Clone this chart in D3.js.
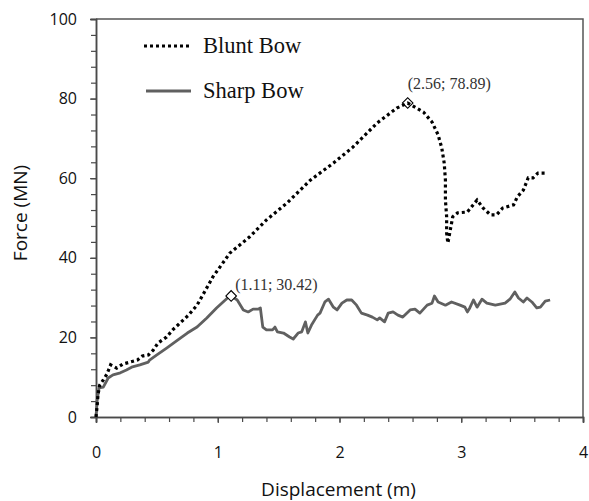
<!DOCTYPE html>
<html>
<head>
<meta charset="utf-8">
<script src="https://cdn.jsdelivr.net/npm/d3@7"></script>
<style>
  html, body { margin: 0; padding: 0; background: #fff; }
  svg { display: block; }
</style>
</head>
<body>
<svg id="chart" width="589" height="501"></svg>
<script>
// Blunt Bow: displacement (m)
const bluntX = [0, 0.01, 0.016, 0.03, 0.06, 0.09, 0.12, 0.17, 0.22, 0.28, 0.34, 0.38, 0.43, 0.47, 0.51, 0.58, 0.63, 0.69, 0.76, 0.83, 0.90, 0.96, 1.10, 1.26, 1.40, 1.57, 1.76, 1.95, 2.11, 2.31, 2.47, 2.56, 2.69, 2.76, 2.81, 2.84, 2.86, 2.87, 2.87, 2.88, 2.88, 2.89, 2.91, 2.93, 2.97, 3.05, 3.13, 3.18, 3.24, 3.29, 3.34, 3.43, 3.46, 3.51, 3.55, 3.59, 3.63, 3.69];
// Blunt Bow: force (MN)
const bluntY = [0, 3, 5.5, 8, 9.3, 10.8, 13.1, 12.3, 13.3, 13.8, 14.3, 15.3, 15.6, 16.8, 18.6, 20.1, 21.9, 23.6, 25.6, 28.1, 31.9, 35.2, 41.2, 45.2, 49.5, 53.8, 59.5, 63.8, 67.8, 73.9, 77.6, 78.89, 76.6, 74.1, 70.9, 67.6, 63.8, 59.5, 54.5, 50.3, 46.2, 43.7, 47.0, 50.3, 51.3, 51.5, 54.5, 52.5, 50.8, 50.8, 52.5, 53.3, 55.3, 57.0, 60.1, 60.1, 61.3, 61.3];

// Sharp Bow: displacement (m)
const sharpX = [0, 0.01, 0.025, 0.06, 0.10, 0.14, 0.20, 0.25, 0.30, 0.36, 0.43, 0.44, 0.50, 0.58, 0.67, 0.75, 0.83, 0.91, 0.99, 1.08, 1.11, 1.16, 1.21, 1.25, 1.29, 1.33, 1.35, 1.37, 1.40, 1.45, 1.47, 1.49, 1.54, 1.59, 1.62, 1.66, 1.69, 1.72, 1.74, 1.77, 1.82, 1.84, 1.88, 1.91, 1.95, 1.98, 2.02, 2.06, 2.10, 2.14, 2.18, 2.23, 2.27, 2.31, 2.33, 2.37, 2.40, 2.44, 2.48, 2.52, 2.58, 2.62, 2.66, 2.72, 2.76, 2.78, 2.81, 2.87, 2.92, 2.99, 3.03, 3.05, 3.07, 3.10, 3.13, 3.17, 3.21, 3.28, 3.36, 3.40, 3.44, 3.47, 3.51, 3.54, 3.58, 3.62, 3.65, 3.69, 3.73];
// Sharp Bow: force (MN)
const sharpY = [0, 4.3, 7.3, 7.5, 9.8, 10.6, 11.1, 11.8, 12.6, 13.1, 13.8, 14.3, 15.6, 17.3, 19.3, 21.1, 22.6, 24.9, 27.4, 29.9, 30.42, 29.4, 26.9, 26.4, 27.1, 27.1, 27.4, 22.6, 21.9, 21.9, 22.6, 21.4, 21.1, 20.1, 19.6, 21.1, 21.4, 23.9, 21.1, 23.1, 25.6, 26.1, 28.9, 29.6, 27.6, 26.9, 28.6, 29.4, 29.4, 28.1, 26.1, 25.6, 25.1, 24.4, 24.9, 23.9, 26.1, 26.4, 25.6, 25.1, 26.9, 27.1, 26.1, 28.1, 28.6, 30.4, 28.9, 28.1, 28.9, 28.1, 27.6, 26.4, 27.4, 29.4, 27.6, 29.6, 28.6, 28.1, 28.6, 29.6, 31.4, 29.9, 28.9, 29.9, 28.9, 27.4, 27.6, 29.1, 29.4];

const seriesNames = ["Blunt Bow", "Sharp Bow"];
const peakX = [2.56, 1.11];
const peakY = [78.89, 30.42];
const peakLabels = ["(2.56; 78.89)", "(1.11; 30.42)"];
const xTickLabels = [0, 1, 2, 3, 4];
const yTickLabels = [0, 20, 40, 60, 80, 100];
const xTitle = "Displacement (m)";
const yTitle = "Force (MN)";

const svg = d3.select("#chart");
const pL = 96, pR = 583, pT = 19, pB = 417;

const x = d3.scaleLinear().domain([0, 4]).range([pL, pR]);
const y = d3.scaleLinear().domain([0, 100]).range([pB, pT]);

const axisColor = "#4a4a4a";
const sans = "'Open Sans', sans-serif";
const serif = "'Liberation Serif', 'Times New Roman', serif";

// frame (top and right)
svg.append("path")
  .attr("d", `M${pL},${pT}H${pR}V${pB}`)
  .attr("fill", "none").attr("stroke", "#555").attr("stroke-width", 1.5);

// minor ticks
const yMinor = d3.range(0, 101, 4);
const xMinor = d3.range(0, 4.001, 0.2);

const yAxisG = svg.append("g").attr("transform", `translate(${pL},0)`)
  .call(d3.axisLeft(y).tickValues(yMinor).tickSize(5).tickFormat(""));
const yMajorG = svg.append("g").attr("transform", `translate(${pL},0)`)
  .call(d3.axisLeft(y).tickValues(yTickLabels).tickSize(6).tickPadding(13).tickFormat(d3.format("d")));
const xAxisG = svg.append("g").attr("transform", `translate(0,${pB})`)
  .call(d3.axisBottom(x).tickValues(xMinor).tickSize(5).tickFormat(""));
const xMajorG = svg.append("g").attr("transform", `translate(0,${pB})`)
  .call(d3.axisBottom(x).tickValues(xTickLabels).tickSize(6).tickPadding(24).tickFormat(d3.format("d")));

[yAxisG, yMajorG, xAxisG, xMajorG].forEach(g => {
  g.selectAll(".domain").attr("stroke", axisColor).attr("stroke-width", 1.5);
  g.selectAll(".tick line").attr("stroke", axisColor).attr("stroke-width", 1.2);
  g.selectAll(".tick text").attr("fill", "#111").style("font-family", sans).style("font-size", "16px");
});

// axis titles
svg.append("text")
  .attr("x", (pL + pR) / 2 - 1).attr("y", 496)
  .attr("text-anchor", "middle")
  .style("font-family", sans).style("font-size", "19px").attr("fill", "#111")
  .text(xTitle);
svg.append("text")
  .attr("transform", `translate(27,${(pT + pB) / 2 - 5}) rotate(-90)`)
  .attr("text-anchor", "middle")
  .style("font-family", sans).style("font-size", "19px").attr("fill", "#111")
  .text(yTitle);

// lines
const line = d3.line().x(d => x(d[0])).y(d => y(d[1]));
const bluntData = bluntX.map((v, i) => [v, bluntY[i]]);
const sharpData = sharpX.map((v, i) => [v, sharpY[i]]);

svg.append("path").datum(sharpData)
  .attr("d", line).attr("fill", "none")
  .attr("stroke", "#606060").attr("stroke-width", 2.8).attr("stroke-linejoin", "round");

svg.append("path").datum(bluntData)
  .attr("d", line).attr("fill", "none")
  .attr("stroke", "#000").attr("stroke-width", 3.2).attr("stroke-dasharray", "3,3");

// peak markers
const diamond = d3.symbol().type(d3.symbolSquare).size(56);
[0, 1].forEach(i => {
  svg.append("path")
    .attr("d", diamond())
    .attr("transform", `translate(${x(peakX[i])},${y(peakY[i])}) rotate(45)`)
    .attr("fill", i === 1 ? "#fff" : "none")
    .attr("stroke", "#000").attr("stroke-width", 1.1);
});

svg.append("text").attr("x", x(peakX[0])).attr("y", 89)
  .style("font-family", serif).style("font-size", "16px").attr("fill", "#333")
  .text(peakLabels[0]);
svg.append("text").attr("x", x(peakX[1]) + 4).attr("y", 290)
  .style("font-family", serif).style("font-size", "16px").attr("fill", "#333")
  .text(peakLabels[1]);

// legend
svg.append("line").attr("x1", 144).attr("x2", 190).attr("y1", 46).attr("y2", 46)
  .attr("stroke", "#000").attr("stroke-width", 3.2).attr("stroke-dasharray", "3,3");
svg.append("line").attr("x1", 146).attr("x2", 191).attr("y1", 91).attr("y2", 91)
  .attr("stroke", "#606060").attr("stroke-width", 2.8);
svg.append("text").attr("x", 203).attr("y", 53)
  .style("font-family", serif).style("font-size", "22.5px").attr("fill", "#111")
  .text(seriesNames[0]);
svg.append("text").attr("x", 203).attr("y", 98)
  .style("font-family", serif).style("font-size", "22.5px").attr("fill", "#111")
  .text(seriesNames[1]);
</script>
</body>
</html>
